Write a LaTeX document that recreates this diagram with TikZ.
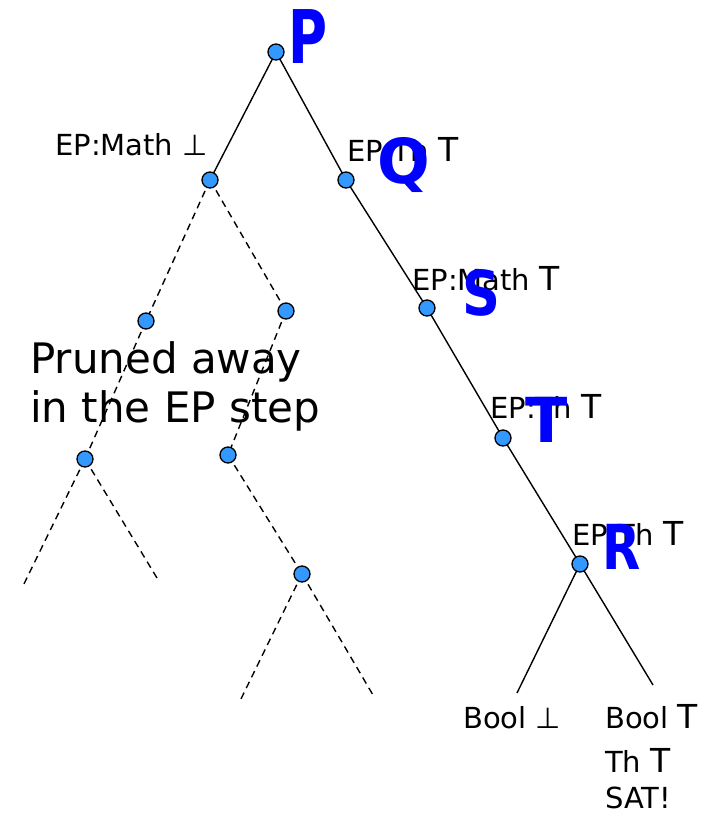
\documentclass[tikz,border=0pt]{standalone}
\usepackage{fontspec}
\setmainfont{DejaVu Sans}
\definecolor{nodeblue}{RGB}{51,153,255}
\definecolor{letterblue}{RGB}{0,0,255}
\newcommand{\tp}{{\fontsize{33}{33}\selectfont T}}
\begin{document}
\begin{tikzpicture}[x=1pt,y=-1pt,
  vert/.style={circle,draw=black,fill=nodeblue,line width=1.3pt,inner sep=0pt,minimum size=16pt},
  solidedge/.style={line width=1.4pt},
  dashedge/.style={line width=1.4pt,dash pattern=on 7pt off 5pt},
  lbl/.style={inner sep=0pt,font=\fontsize{29}{31}\selectfont},
  big/.style={inner sep=0pt,font=\fontsize{42}{46}\selectfont},
  tag/.style={inner sep=0pt,text=letterblue,font=\bfseries\fontsize{62}{62}\selectfont}]
\useasboundingbox (0,0) rectangle (709,819);
% coordinates for nodes
\coordinate (cP) at (276,52);
\coordinate (cA) at (210,180);
\coordinate (cQ) at (346,180);
\coordinate (cS) at (427,308);
\coordinate (cT) at (503,438);
\coordinate (cR) at (580,564);
\coordinate (cB) at (146,321);
\coordinate (cC) at (286,311);
\coordinate (cD) at (85,459);
\coordinate (cE) at (228,455);
\coordinate (cF) at (302,574);
\coordinate (eD1) at (22,588);
\coordinate (eD2) at (157,578);
\coordinate (eF1) at (239,703);
\coordinate (eF2) at (373,695);
\coordinate (eR1) at (517,693);
\coordinate (eR2) at (653,685);
% edges
\draw[solidedge] (cP) -- (cA);
\draw[solidedge] (cP) -- (cQ) -- (cS) -- (cT) -- (cR);
\draw[solidedge] (cR) -- (eR1);
\draw[solidedge] (cR) -- (eR2);
\draw[dashedge] (cA) -- (cB);
\draw[dashedge] (cA) -- (cC);
\draw[dashedge] (cB) -- (cD);
\draw[dashedge] (cD) -- (eD1);
\draw[dashedge] (cD) -- (eD2);
\draw[dashedge] (cC) -- (cE);
\draw[dashedge] (cE) -- (cF);
\draw[dashedge] (cF) -- (eF1);
\draw[dashedge] (cF) -- (eF2);
% nodes
\foreach \n in {P,A,Q,S,T,R,B,C,D,E,F} \node[vert] (n\n) at (c\n) {};
% labels
\node[lbl,anchor=base east] (lA) at (208,155) {EP:Math ⊥};
\node[lbl,anchor=base west] (lQ) at (347,161) {EP:Th \tp};
\node[lbl,anchor=base west] (lS) at (412,290) {EP:Math \tp};
\node[lbl,anchor=base west] (lT) at (490,418) {EP:Th \tp};
\node[lbl,anchor=base west] (lR) at (572,545) {EP:Th \tp};
\node[lbl,anchor=base west] (b1) at (463,728) {Bool ⊥};
\node[lbl,anchor=base west] (b2) at (605,728) {Bool \tp};
\node[lbl,anchor=base west] (b3) at (605,772) {Th \tp};
\node[lbl,anchor=base west] (b4) at (605,808) {SAT!};
\node[big,anchor=base west] (p1) at (30,373) {Pruned away};
\node[big,anchor=base west] (p2) at (30,422) {in the EP step};
% blue letters
\node[tag,font=\bfseries\fontsize{74}{74}\selectfont] (tP) at (308,37) {\scalebox{0.72}[1]{P}};
\node[tag] (tQ) at (404,165) {Q};
\node[tag] (tS) at (481,293) {\scalebox{0.85}[1]{S}};
\node[tag] (tT) at (547,420) {T};
\node[tag] (tR) at (622,547) {\scalebox{0.8}[1]{R}};
\end{tikzpicture}
\end{document}
